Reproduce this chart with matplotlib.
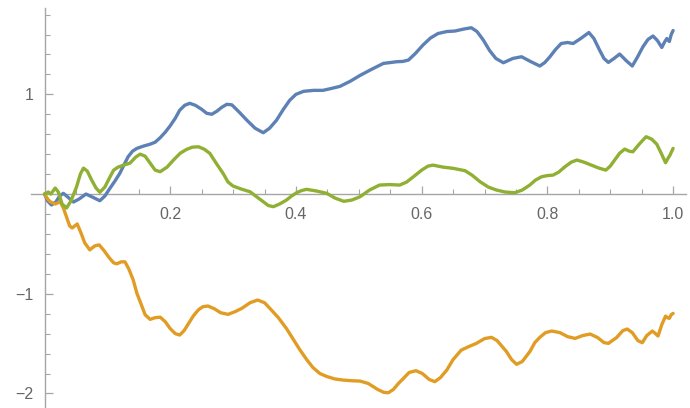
import matplotlib
matplotlib.use("Agg")
import matplotlib.pyplot as plt
from matplotlib.ticker import FixedLocator, FixedFormatter

# Three sample paths on [0, 1]
blue_x = [0.0, 0.005, 0.011, 0.018, 0.024, 0.030, 0.037, 0.046, 0.055, 0.066,
          0.076, 0.088, 0.096, 0.104, 0.112, 0.120, 0.127, 0.133, 0.140, 0.147,
          0.157, 0.168, 0.176, 0.184, 0.192, 0.200, 0.208, 0.215, 0.223, 0.231,
          0.240, 0.250, 0.258, 0.266, 0.274, 0.282, 0.290, 0.298, 0.310, 0.322,
          0.335, 0.348, 0.358, 0.369, 0.380, 0.390, 0.400, 0.412, 0.428, 0.443,
          0.457, 0.470, 0.486, 0.502, 0.520, 0.539, 0.560, 0.570, 0.579, 0.590,
          0.602, 0.614, 0.626, 0.640, 0.653, 0.667, 0.679, 0.688, 0.698, 0.708,
          0.718, 0.730, 0.745, 0.759, 0.773, 0.788, 0.796, 0.804, 0.813, 0.822,
          0.832, 0.841, 0.853, 0.866, 0.874, 0.883, 0.890, 0.897, 0.906, 0.915,
          0.925, 0.935, 0.943, 0.952, 0.960, 0.968, 0.975, 0.982, 0.986, 0.990,
          0.994, 0.997, 1.0]
blue_y = [0.0, -0.07, -0.11, -0.08, -0.02, 0.007, -0.03, -0.08, -0.05, 0.0,
          -0.03, -0.067, -0.02, 0.057, 0.13, 0.21, 0.30, 0.374, 0.43, 0.458,
          0.48, 0.50, 0.52, 0.565, 0.62, 0.685, 0.76, 0.84, 0.89, 0.91,
          0.89, 0.85, 0.81, 0.80, 0.83, 0.87, 0.90, 0.895, 0.82, 0.74,
          0.66, 0.615, 0.66, 0.74, 0.85, 0.94, 1.0, 1.03, 1.04, 1.04,
          1.06, 1.08, 1.13, 1.19, 1.25, 1.31, 1.327, 1.33, 1.344, 1.41,
          1.494, 1.565, 1.61, 1.63, 1.635, 1.655, 1.668, 1.63, 1.545, 1.44,
          1.36, 1.317, 1.36, 1.377, 1.33, 1.284, 1.32, 1.377, 1.45, 1.51,
          1.52, 1.51, 1.56, 1.62, 1.56, 1.444, 1.36, 1.32, 1.36, 1.404,
          1.34, 1.284, 1.37, 1.477, 1.55, 1.585, 1.54, 1.47, 1.52, 1.56,
          1.53, 1.60, 1.64]

orange_x = [0.0, 0.005, 0.009, 0.017, 0.025, 0.030, 0.035, 0.040, 0.044, 0.052,
            0.058, 0.064, 0.072, 0.080, 0.087, 0.095, 0.103, 0.110, 0.115, 0.122,
            0.128, 0.134, 0.141, 0.147, 0.154, 0.160, 0.168, 0.176, 0.184, 0.192,
            0.200, 0.208, 0.215, 0.222, 0.230, 0.237, 0.245, 0.252, 0.260, 0.270,
            0.280, 0.292, 0.303, 0.314, 0.327, 0.339, 0.350, 0.359, 0.372, 0.385,
            0.396, 0.406, 0.417, 0.427, 0.438, 0.449, 0.462, 0.475, 0.490, 0.502,
            0.515, 0.530, 0.540, 0.547, 0.555, 0.563, 0.571, 0.580, 0.591, 0.601,
            0.612, 0.621, 0.630, 0.640, 0.650, 0.663, 0.675, 0.687, 0.700, 0.711,
            0.720, 0.735, 0.743, 0.751, 0.760, 0.772, 0.780, 0.788, 0.797, 0.807,
            0.820, 0.832, 0.844, 0.856, 0.868, 0.880, 0.890, 0.897, 0.910, 0.920,
            0.927, 0.935, 0.944, 0.951, 0.958, 0.967, 0.972, 0.976, 0.982, 0.988,
            0.991, 0.994, 0.997, 1.0]
orange_y = [0.0, -0.05, -0.077, -0.10, -0.077, -0.14, -0.23, -0.32, -0.34, -0.30,
            -0.39, -0.49, -0.56, -0.52, -0.51, -0.57, -0.64, -0.69, -0.70, -0.68,
            -0.68, -0.75, -0.86, -0.996, -1.11, -1.21, -1.257, -1.24, -1.235, -1.28,
            -1.35, -1.40, -1.414, -1.37, -1.29, -1.22, -1.16, -1.13, -1.123, -1.15,
            -1.19, -1.207, -1.18, -1.146, -1.09, -1.063, -1.09, -1.15, -1.24, -1.35,
            -1.46, -1.56, -1.66, -1.74, -1.80, -1.83, -1.855, -1.866, -1.873, -1.876,
            -1.90, -1.96, -1.99, -1.993, -1.96, -1.90, -1.849, -1.79, -1.772, -1.80,
            -1.86, -1.882, -1.84, -1.765, -1.66, -1.565, -1.53, -1.498, -1.45, -1.437,
            -1.47, -1.581, -1.66, -1.708, -1.68, -1.581, -1.49, -1.437, -1.39, -1.374,
            -1.39, -1.43, -1.448, -1.42, -1.404, -1.44, -1.49, -1.498, -1.44, -1.37,
            -1.354, -1.39, -1.47, -1.491, -1.42, -1.374, -1.40, -1.424, -1.31, -1.224,
            -1.24, -1.247, -1.21, -1.197]

green_x = [0.0, 0.006, 0.010, 0.017, 0.022, 0.028, 0.035, 0.042, 0.051, 0.057,
           0.062, 0.068, 0.075, 0.082, 0.088, 0.096, 0.104, 0.110, 0.117, 0.126,
           0.136, 0.145, 0.152, 0.160, 0.168, 0.176, 0.184, 0.195, 0.205, 0.216,
           0.226, 0.235, 0.245, 0.254, 0.263, 0.273, 0.284, 0.292, 0.300, 0.313,
           0.327, 0.338, 0.348, 0.356, 0.364, 0.374, 0.385, 0.393, 0.401, 0.409,
           0.417, 0.433, 0.449, 0.462, 0.476, 0.489, 0.502, 0.517, 0.533, 0.549,
           0.565, 0.576, 0.587, 0.600, 0.610, 0.618, 0.634, 0.650, 0.669, 0.680,
           0.693, 0.706, 0.719, 0.733, 0.748, 0.760, 0.772, 0.781, 0.791, 0.800,
           0.809, 0.818, 0.828, 0.838, 0.847, 0.858, 0.870, 0.882, 0.893, 0.900,
           0.907, 0.915, 0.923, 0.930, 0.936, 0.946, 0.957, 0.966, 0.974, 0.981,
           0.988, 0.992, 0.995, 1.0]
green_y = [0.0, 0.02, 0.0, 0.06, 0.02, -0.10, -0.14, -0.07, 0.073, 0.20,
           0.26, 0.23, 0.14, 0.06, 0.018, 0.07, 0.17, 0.24, 0.27, 0.29,
           0.31, 0.37, 0.40, 0.38, 0.31, 0.24, 0.224, 0.27, 0.34, 0.41,
           0.448, 0.47, 0.474, 0.45, 0.408, 0.31, 0.208, 0.12, 0.08, 0.05,
           0.023, -0.03, -0.077, -0.115, -0.127, -0.10, -0.06, -0.02, 0.013, 0.035,
           0.047, 0.03, 0.007, -0.04, -0.073, -0.06, -0.027, 0.04, 0.09, 0.095,
           0.09, 0.12, 0.174, 0.24, 0.28, 0.29, 0.27, 0.258, 0.234, 0.19,
           0.123, 0.07, 0.04, 0.02, 0.013, 0.04, 0.09, 0.14, 0.174, 0.185,
           0.19, 0.22, 0.274, 0.32, 0.341, 0.32, 0.29, 0.26, 0.24, 0.28,
           0.341, 0.41, 0.451, 0.43, 0.424, 0.50, 0.575, 0.55, 0.50, 0.41,
           0.314, 0.36, 0.39, 0.458]

x_tick_values = [0.2, 0.4, 0.6, 0.8, 1.0]
x_tick_labels = ["0.2", "0.4", "0.6", "0.8", "1.0"]
y_tick_values = [-2, -1, 1]
y_tick_labels = ["\u22122", "\u22121", "1"]

plt.rcParams["font.family"] = ["Liberation Sans", "DejaVu Sans"]

W, H = 690, 408
fig = plt.figure(figsize=(W / 100, H / 100), dpi=100)
ax = fig.add_axes([31 / W, 1.3 / H, (686 - 31) / W, (406.7 - 8.3) / H])

style = dict(lw=2.4, solid_joinstyle="round", solid_capstyle="round")
ax.plot(blue_x, blue_y, color="#5E81B5", **style)
ax.plot(orange_x, orange_y, color="#E19C24", **style)
ax.plot(green_x, green_y, color="#8FB032", **style)

ax.set_xlim(-0.0215, 1.0205)
ax.set_ylim(-2.133, 1.863)

axis_color = "#a6a6a6"
ax.spines["left"].set_position(("data", 0))
ax.spines["bottom"].set_position(("data", 0))
for side in ("top", "right"):
    ax.spines[side].set_visible(False)
for side in ("left", "bottom"):
    ax.spines[side].set_color(axis_color)
    ax.spines[side].set_linewidth(1.0)
    ax.spines[side].set_zorder(0)

ax.xaxis.set_major_locator(FixedLocator(x_tick_values))
ax.xaxis.set_major_formatter(FixedFormatter(x_tick_labels))
ax.xaxis.set_minor_locator(FixedLocator([0.05, 0.1, 0.15, 0.25, 0.3, 0.35, 0.45, 0.5,
                                         0.55, 0.65, 0.7, 0.75, 0.85, 0.9, 0.95]))
ax.yaxis.set_major_locator(FixedLocator(y_tick_values))
ax.yaxis.set_major_formatter(FixedFormatter(y_tick_labels))
ax.yaxis.set_minor_locator(FixedLocator([v / 10 for v in range(-20, 19, 2)
                                         if v not in (-20, -10, 0, 10)]))

ax.tick_params(which="major", direction="in", length=6, width=0.9, color=axis_color,
               labelcolor="#666666", labelsize=11.5, pad=9)
ax.tick_params(which="minor", direction="in", length=3.5, width=0.8, color=axis_color)
ax.tick_params(axis="y", which="major", pad=8)
ax.set_facecolor("white")

fig.savefig("out.png", dpi=100)
